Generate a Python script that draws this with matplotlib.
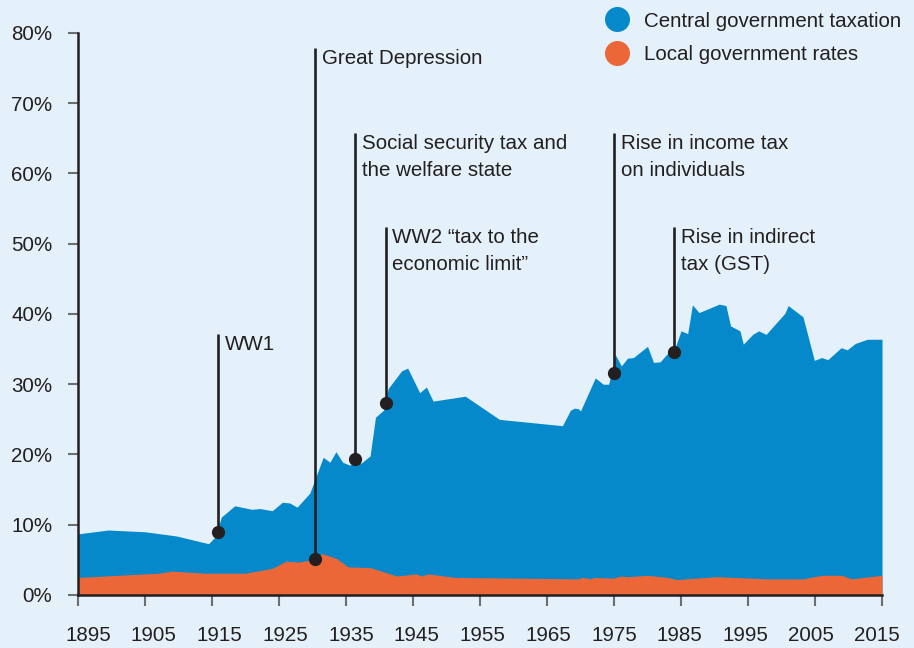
import matplotlib
matplotlib.use("Agg")
import matplotlib.pyplot as plt
from matplotlib.lines import Line2D

plt.rcParams['font.family'] = ['Liberation Sans', 'DejaVu Sans']

total_years = [1895, 1899.5, 1905, 1909.7, 1914.5, 1915.5, 1916.4, 1918.4, 1920.9, 1922.2,
               1924, 1925.5, 1926.6, 1927.7, 1929.6, 1931.6, 1932.6, 1933.5, 1934.5, 1935.5,
               1936.4, 1937.3, 1938.6, 1939.4, 1940.6, 1941.3, 1943.3, 1944.2, 1946, 1947,
               1948, 1952.8, 1957.9, 1967.3, 1968.5, 1969.1, 1969.7, 1970, 1972.2, 1973.4,
               1974.2, 1975.2, 1976.1, 1977, 1977.9, 1980, 1980.9, 1981.9, 1982.9, 1983.9,
               1985, 1986, 1986.7, 1987.7, 1990.7, 1991.7, 1992.4, 1993.8, 1994.3, 1995.7,
               1996.6, 1997.7, 2000.5, 2001, 2003.2, 2004.9, 2006, 2006.9, 2008.9, 2009.8,
               2011, 2012.8, 2015]
total_share = [8.7, 9.25, 9.0, 8.4, 7.3, 8.3, 11.1, 12.7, 12.2, 12.3,
               12.0, 13.2, 13.1, 12.5, 14.5, 19.6, 18.9, 20.4, 18.9, 18.5,
               18.7, 18.8, 19.8, 25.3, 26.3, 29.4, 31.9, 32.3, 28.8, 29.6,
               27.6, 28.3, 25.0, 24.1, 26.3, 26.6, 26.5, 26.2, 30.9, 30.0,
               30.0, 34.2, 32.6, 33.7, 33.8, 35.4, 33.1, 33.2, 34.3, 34.6,
               37.6, 37.2, 41.3, 40.2, 41.4, 41.2, 38.3, 37.6, 35.7, 37.1,
               37.6, 37.1, 40.1, 41.2, 39.6, 33.4, 33.8, 33.5, 35.2, 34.9,
               35.8, 36.4, 36.4]

# Local government rates, % of GDP
local_years = [1895, 1907, 1909, 1914, 1920, 1924, 1926, 1928, 1930.4, 1931.4,
               1933.6, 1935.3, 1938.6, 1942.6, 1945.5, 1946.3, 1947.2, 1951.3, 1969.7, 1970.3,
               1971.5, 1972, 1974.9, 1976, 1977, 1980, 1983, 1984.3, 1990.3, 1997.8,
               2003.2, 2006, 2009, 2010.4, 2015]
local_share = [2.5, 3.1, 3.4, 3.1, 3.1, 3.8, 4.8, 4.7, 5.1, 5.9,
               5.2, 4.0, 3.9, 2.7, 3.0, 2.7, 3.0, 2.5, 2.3, 2.5,
               2.3, 2.5, 2.4, 2.7, 2.6, 2.8, 2.5, 2.2, 2.6, 2.3,
               2.3, 2.8, 2.8, 2.3, 2.8]

# Annotations: label, year, value at the dot, value at the top of the line
event_labels = ["WW1", "Great Depression", "Social security tax and\nthe welfare state",
                "WW2 \u201ctax to the\neconomic limit\u201d", "Rise in income tax\non individuals",
                "Rise in indirect\ntax (GST)"]
event_years = [1915.9, 1930.4, 1936.3, 1940.9, 1975.0, 1983.9]
event_dot = [8.9, 5.1, 19.3, 27.3, 31.6, 34.6]
event_top = [37.2, 77.9, 65.8, 52.4, 65.8, 52.4]

x_ticks = list(range(1895, 2016, 10))
y_ticks = list(range(0, 81, 10))

bg = "#e5f1fa"
blue = "#0689cb"
orange = "#eb6737"
dark = "#231f20"
fs = 14.8

fig = plt.figure(figsize=(9.14, 6.48), dpi=100, facecolor=bg)
ax = fig.add_axes([0.0853, 0.0818, 0.8797, 0.8673], facecolor=bg)

ax.fill_between(total_years, 0, total_share, color=blue, lw=0, zorder=1)
ax.fill_between(local_years, 0, local_share, color=orange, lw=0, zorder=2)

for label, yr, dot, top in zip(event_labels, event_years, event_dot, event_top):
    ax.plot([yr, yr], [dot, top], color=dark, lw=1.9, zorder=3, clip_on=False,
            solid_capstyle='butt')
    ax.plot(yr, dot, 'o', color=dark, ms=8.5, zorder=4, clip_on=False)
    ax.annotate(label, xy=(yr, top), xytext=(5, -1), textcoords='offset points',
                ha='left', va='top', fontsize=fs, color=dark, linespacing=1.5)

ax.set_xlim(1895, 2015)
ax.set_ylim(0, 80)
# tick marks on the decades, labels set on a slightly narrower spread as in the original
ax.xaxis.remove_overlapping_locs = False
ax.set_xticks(x_ticks)
ax.set_xticklabels([])
label_pos = [t + 1.5 - (t - 1895) / 120 * 2.25 for t in x_ticks]
ax.set_xticks(label_pos, [str(t) for t in x_ticks], minor=True)
ax.set_yticks(y_ticks)
ax.set_yticklabels([f"{t}%" for t in y_ticks])

for side in ["top", "right"]:
    ax.spines[side].set_visible(False)
for side in ["left", "bottom"]:
    ax.spines[side].set_color(dark)
    ax.spines[side].set_linewidth(1.8)
    ax.spines[side].set_zorder(5)

ax.tick_params(axis='x', which='major', direction='out', length=8, width=1.5,
               color="#6d6e70")
ax.tick_params(axis='x', which='minor', length=0, pad=22, labelsize=fs, labelcolor=dark)
ax.tick_params(axis='y', direction='out', length=7.5, width=1.5, color="#6d6e70",
               pad=11, labelsize=fs, labelcolor=dark)

handles = [Line2D([], [], marker='o', ls='', ms=17, color=blue),
           Line2D([], [], marker='o', ls='', ms=17, color=orange)]
fig.legend(handles, ["Central government taxation", "Local government rates"],
           loc='upper left', bbox_to_anchor=(0.664, 0.982), frameon=False,
           fontsize=fs, labelcolor=dark, handlelength=0.95, handletextpad=0.85,
           labelspacing=0.7, borderpad=0, borderaxespad=0)

fig.savefig("out.png", dpi=100, facecolor=bg)
